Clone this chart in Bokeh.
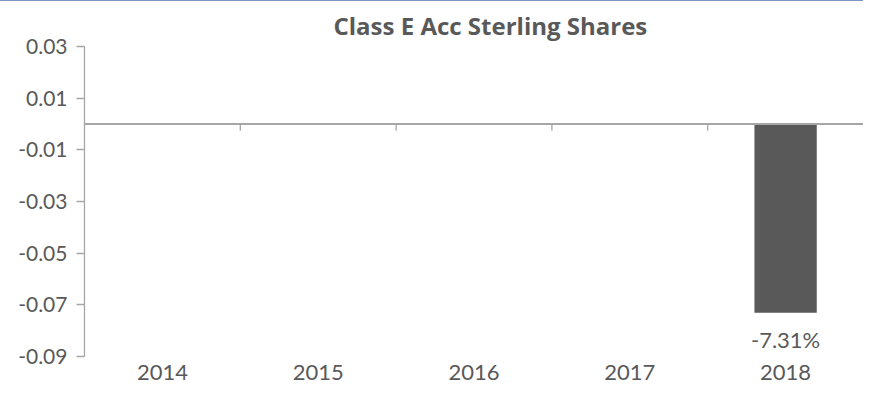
from bokeh.plotting import figure
from bokeh.models import (FactorRange, Range1d, ColumnDataSource, FixedTicker,
                          PrintfTickFormatter, Span, LabelSet)
from bokeh.transform import dodge
from bokeh.core.properties import value
from bokeh.embed import file_html
from bokeh.resources import INLINE

# ---- data ----
years = ["2014", "2015", "2016", "2017", "2018"]
returns = [None, None, None, None, -0.0731]
return_labels = ["", "", "", "", "-7.31%"]
y_ticks = [-0.09, -0.07, -0.05, -0.03, -0.01, 0.01, 0.03]
title_text = "Class E Acc Sterling Shares"

FONT = "Lato"
TEXT_COLOR = "#595959"
AXIS_COLOR = "#a6a6a6"
BAR_COLOR = "#595959"

y_min, y_max = -0.09, 0.03

p = figure(width=863, height=389, output_backend="svg", toolbar_location=None,
           x_range=FactorRange(*years), y_range=Range1d(y_min, y_max),
           min_border_left=84, min_border_right=0, min_border_top=33,
           min_border_bottom=34)
p.styles = {"border-top": "1px solid #7f94c6"}

p.outline_line_color = None
p.xgrid.grid_line_color = None
p.ygrid.grid_line_color = None
p.x_range.range_padding = 0

# title
p.title.text = title_text
p.title.align = "left"
p.title.offset = 249
p.title.text_font = "Open Sans"
p.title.text_font_style = "bold"
p.title.text_font_size = "24px"
p.title.text_color = TEXT_COLOR

# y axis
ya = p.yaxis[0]
ya.ticker = FixedTicker(ticks=y_ticks)
ya.formatter = PrintfTickFormatter(format="%.2f")
ya.axis_line_color = AXIS_COLOR
ya.axis_line_width = 1.3
ya.major_tick_line_color = AXIS_COLOR
ya.major_tick_line_width = 1.3
ya.major_tick_out = 8
ya.major_tick_in = 0
ya.minor_tick_line_color = None
ya.major_label_text_font = FONT
ya.major_label_text_font_size = "21px"
ya.major_label_text_color = TEXT_COLOR
ya.major_label_standoff = 9

# x axis (labels only, at bottom)
xa = p.xaxis[0]
xa.axis_line_color = None
xa.major_tick_line_color = None
xa.minor_tick_line_color = None
xa.major_label_text_font = FONT
xa.major_label_text_font_size = "22px"
xa.major_label_text_color = TEXT_COLOR
xa.major_label_standoff = 2

# bars
bar_years = [y for y, r in zip(years, returns) if r is not None]
bar_vals = [r for r in returns if r is not None]
bar_labels = [l for l, r in zip(return_labels, returns) if r is not None]
src = ColumnDataSource(dict(year=bar_years, ret=bar_vals, label=bar_labels))
p.vbar(x="year", top="ret", bottom=0, width=0.4, source=src,
       fill_color=BAR_COLOR, line_color=None)

# zero line as category axis
p.add_layout(Span(location=0, dimension="width", line_color=AXIS_COLOR,
                  line_width=1.8))

# category boundary ticks on the zero line
px_per_unit = 320 / (y_max - y_min)
tick_len = 7 / px_per_unit
tick_src = ColumnDataSource(dict(year=years[:-1]))
p.segment(x0=dodge("year", 0.5, range=p.x_range), y0=0,
          x1=dodge("year", 0.5, range=p.x_range), y1=-tick_len,
          source=tick_src, line_color=AXIS_COLOR, line_width=1.3)

# data labels
p.add_layout(LabelSet(x="year", y="ret", text="label", source=src,
                      y_offset=-13, text_align="center", text_baseline="top",
                      text_font=value(FONT), text_font_size="22px",
                      text_color=TEXT_COLOR))

open("out.html", "w").write(file_html(p, INLINE))
